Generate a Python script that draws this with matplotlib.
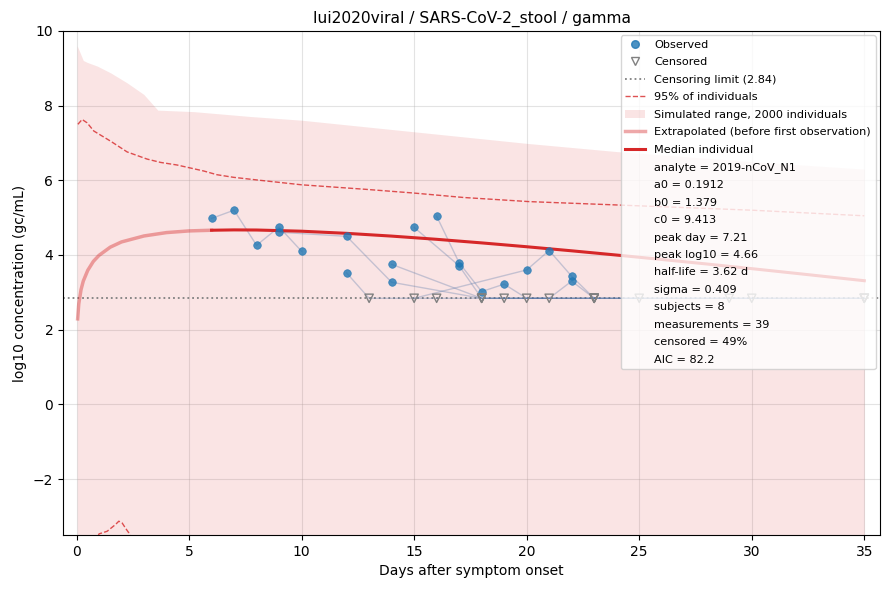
import matplotlib
matplotlib.use("Agg")
import matplotlib.pyplot as plt
from matplotlib.lines import Line2D
from matplotlib.patches import Patch

# ---------------- data ----------------
LOD = 2.84

# subjects: days, values (None = censored at LOD)
subj_days = [
    [6, 7, 8, 9, 10],
    [9, 12, 14, 18, 35],
    [12, 13, 16, 19, 25],
    [14, 18, 23, 29, 35],
    [15, 17, 18, 23, 30, 35],
    [16, 17, 18, 19, 20, 21, 22, 23],
    [15, 20, 21, 22, 23],
]
subj_vals = [
    [4.98, 5.20, 4.26, 4.75, 4.10],
    [4.61, 4.50, 3.27, None, None],
    [3.52, None, None, None, None],
    [3.75, None, None, None, None],
    [4.74, 3.71, None, None, None, None],
    [5.04, 3.79, 3.02, 3.22, None, None, 3.30, None],
    [None, 3.60, 4.12, 3.43, None],
]

# median individual curve
med_days = [0.05, 0.1, 0.2, 0.3, 0.5, 0.75, 1, 1.5, 2, 3, 4, 5, 6,
            7, 8, 10, 12, 14, 16, 18, 20, 22, 24, 26, 28, 30, 32, 35]
med_vals = [2.290, 2.690, 3.070, 3.300, 3.590, 3.830, 3.990, 4.210, 4.350,
            4.510, 4.600, 4.645, 4.663, 4.672, 4.669, 4.637, 4.580, 4.506,
            4.420, 4.324, 4.221, 4.112, 3.998, 3.880, 3.759, 3.634, 3.506, 3.311]
first_obs_day = 6

# simulated range (upper edge; lower edge below the view)
sim_days = [0.03, 0.13, 0.3, 0.47, 0.92, 1.51, 2.25, 2.99, 3.61, 5.2, 7.72,
            10.0, 15.0, 20.0, 24.0, 30.0, 35.0]
sim_hi = [9.60, 9.46, 9.21, 9.16, 9.06, 8.88, 8.61, 8.30, 7.88, 7.84, 7.71,
          7.61, 7.30, 6.99, 6.77, 6.50, 6.30]
sim_lo = [-6.0] * len(sim_days)

# 95% of individuals
p95_days = [0.06, 0.25, 0.47, 0.77, 1.51, 2.25, 3.13, 3.73, 4.47, 5.65, 6.24,
            6.98, 8.16, 10.0, 12.82, 14.97, 17.2, 20.1, 24.0, 30.0, 35.0]
p95_hi = [7.50, 7.63, 7.54, 7.32, 7.05, 6.76, 6.57, 6.48, 6.41, 6.25, 6.15,
          6.08, 6.00, 5.88, 5.76, 5.66, 5.54, 5.43, 5.34, 5.20, 5.05]
p05_days = [0.06, 0.5, 1.0, 1.36, 1.73, 1.88, 2.03, 2.17, 2.32, 2.6, 3.5, 10.0, 35.0]
p05_lo = [-5.0, -4.2, -3.47, -3.40, -3.22, -3.13, -3.18, -3.31, -3.44, -3.8, -4.5, -5.0, -5.0]

stats_lines = [
    "analyte = 2019-nCoV_N1",
    "a0 = 0.1912",
    "b0 = 1.379",
    "c0 = 9.413",
    "peak day = 7.21",
    "peak log10 = 4.66",
    "half-life = 3.62 d",
    "sigma = 0.409",
    "subjects = 8",
    "measurements = 39",
    "censored = 49%",
    "AIC = 82.2",
]

# ---------------- plot ----------------
RED = "#d62728"
BLUE = "#1f77b4"

fig = plt.figure(figsize=(8.9, 5.9), dpi=100)
ax = fig.add_axes([0.0708, 0.0932, 0.918, 0.8543])

ax.fill_between(sim_days, sim_lo, sim_hi, color=RED, alpha=0.12, lw=0, zorder=1)
ax.plot(p95_days, p95_hi, ls="--", color=RED, alpha=0.8, lw=1.0, zorder=2)
ax.plot(p05_days, p05_lo, ls="--", color=RED, alpha=0.8, lw=1.0, zorder=2)

ax.axhline(LOD, color="gray", ls=":", lw=1.3, zorder=2)

# subject lines and points
obs_x, obs_y, cen_x = [], [], []
for d, v in zip(subj_days, subj_vals):
    yy = [LOD if val is None else val for val in v]
    ax.plot(d, yy, color="#4a6fa5", alpha=0.3, lw=1.0, zorder=3)
    for di, vi in zip(d, v):
        if vi is None:
            cen_x.append(di)
        else:
            obs_x.append(di)
            obs_y.append(vi)

ax.scatter(obs_x, obs_y, s=30, color=BLUE, alpha=0.8, zorder=5, lw=0.5,
           edgecolors=BLUE)
ax.scatter(cen_x, [LOD] * len(cen_x), s=36, marker="v", facecolors="none",
           edgecolors="gray", lw=1.0, zorder=5)

# median curve
ext_x = [d for d in med_days if d <= first_obs_day]
ext_y = [v for d, v in zip(med_days, med_vals) if d <= first_obs_day]
main_x = [d for d in med_days if d >= first_obs_day]
main_y = [v for d, v in zip(med_days, med_vals) if d >= first_obs_day]
ax.plot(ext_x, ext_y, color=RED, alpha=0.4, lw=2.5, zorder=4)
ax.plot(main_x, main_y, color=RED, lw=2.2, zorder=4)

ax.set_xlim(-0.6, 35.7)
ax.set_ylim(-3.5, 10)
ax.grid(True, color="#b0b0b0", alpha=0.35, lw=0.8)
ax.set_axisbelow(True)
ax.set_xlabel("Days after symptom onset", fontsize=10)
ax.set_ylabel("log10 concentration (gc/mL)", fontsize=10)
ax.set_title("lui2020viral / SARS-CoV-2_stool / gamma", fontsize=11.2)

handles = [
    Line2D([], [], marker="o", ls="none", color=BLUE, alpha=0.8, markersize=5.5),
    Line2D([], [], marker="v", ls="none", markerfacecolor="none",
           markeredgecolor="gray", markersize=6),
    Line2D([], [], ls=":", color="gray", lw=1.3),
    Line2D([], [], ls="--", color=RED, alpha=0.8, lw=1.0),
    Patch(facecolor=RED, alpha=0.12, lw=0),
    Line2D([], [], color=RED, alpha=0.4, lw=2.5),
    Line2D([], [], color=RED, lw=2.2),
]
labels = [
    "Observed",
    "Censored",
    f"Censoring limit ({LOD})",
    "95% of individuals",
    "Simulated range, 2000 individuals",
    "Extrapolated (before first observation)",
    "Median individual",
]
for s in stats_lines:
    handles.append(Line2D([], [], color="none"))
    labels.append(s)

ax.legend(handles, labels, loc="upper right", fontsize=8.1, framealpha=0.8,
          labelspacing=0.66, handlelength=1.8, borderaxespad=0.4)

fig.savefig("out.png", dpi=100)
